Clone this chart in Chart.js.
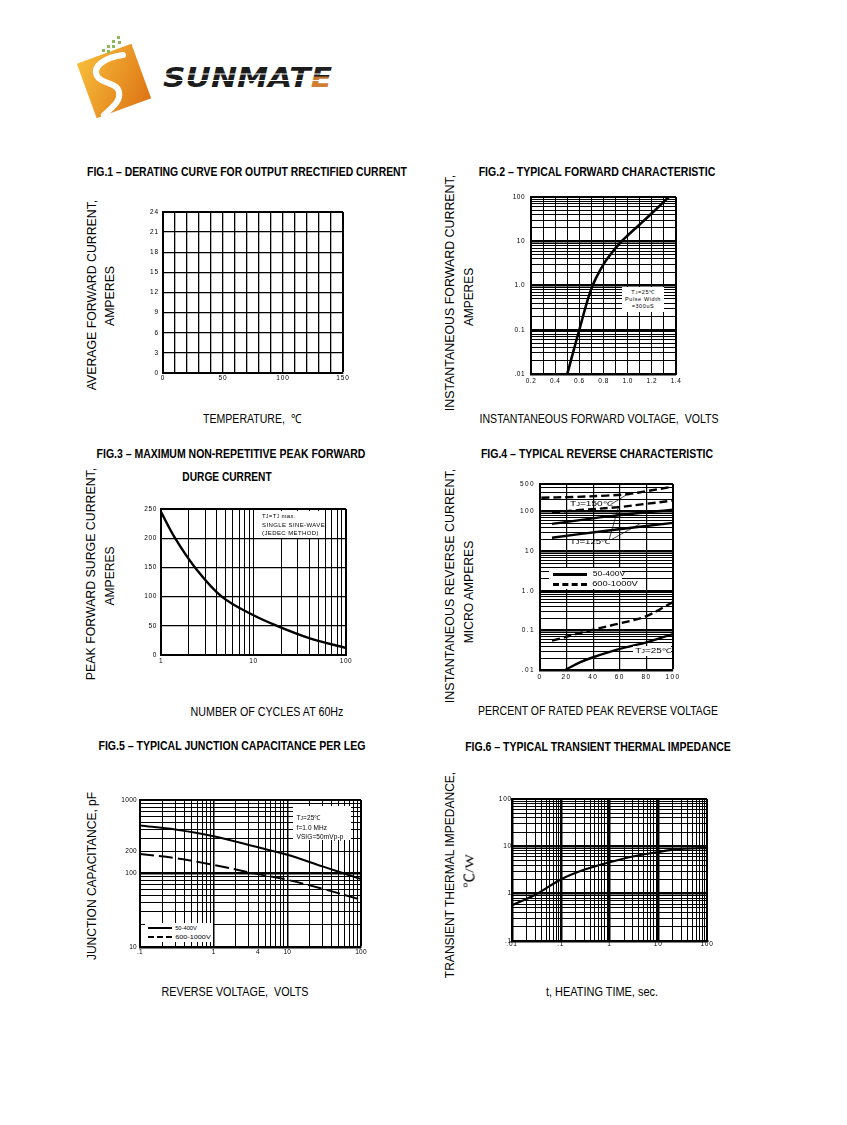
<!DOCTYPE html>
<html><head><meta charset="utf-8">
<script src="https://cdn.jsdelivr.net/npm/chart.js@4.4.1/dist/chart.umd.min.js"></script>
<style>
html,body{margin:0;padding:0;background:#fff;}
body{width:847px;height:1125px;position:relative;overflow:hidden;font-family:'Liberation Sans',Arial,sans-serif;color:#000;}
canvas{position:absolute;}
.t{position:absolute;white-space:nowrap;line-height:1;}
.box{position:absolute;background:#fff;white-space:nowrap;}
.sm{font-size:0.75em;}
</style></head>
<body>
<svg style="position:absolute;left:60px;top:30px" width="290" height="100" viewBox="60 30 290 100">
 <defs>
  <linearGradient id="og" x1="0" y1="0" x2="1" y2="1"><stop offset="0" stop-color="#f7bd3a"/><stop offset="1" stop-color="#de7415"/></linearGradient>
  <linearGradient id="eg" x1="0" y1="0" x2="0" y2="1"><stop offset="0.45" stop-color="#222"/><stop offset="0.5" stop-color="#c9772c"/><stop offset="1" stop-color="#d9863a"/></linearGradient>
 </defs>
 <g transform="rotate(-20 114 81)"><rect x="85" y="52" width="58" height="58" fill="url(#og)"/></g>
 <path d="M123 55 C106 57 92 66 97 76 C101 84 117 82 119 92 C121 102 111 108 104 115" stroke="#fff" stroke-width="6" fill="none" stroke-linecap="round"/>
 <g fill="#8cb85a">
  <rect x="117" y="36" width="3" height="3"/><rect x="112" y="40" width="3" height="3"/><rect x="118" y="41" width="3" height="3"/>
  <rect x="107" y="45" width="3" height="3"/><rect x="112" y="45" width="3" height="3"/><rect x="102" y="49" width="3" height="3"/>
  <rect x="107" y="50" width="3" height="3"/>
 </g>
 <text x="163" y="87" font-family="DejaVu Sans" font-weight="bold" font-style="italic" font-size="27" textLength="169" lengthAdjust="spacingAndGlyphs" fill="#1c1c1c">SUNMAT<tspan fill="url(#eg)">E</tspan></text>
 <line x1="160" y1="74" x2="336" y2="74" stroke="#fff" stroke-width="1.2"/>
 <line x1="160" y1="80.5" x2="336" y2="80.5" stroke="#fff" stroke-width="1.2"/>
</svg>

<script>
// ---------------- DATA ----------------
// Fig.1 (empty derating grid)
const fig1Temp = [];
const fig1Current = [];
const fig1XLabels = [0, 50, 100, 150];
const fig1YLabels = [0, 3, 6, 9, 12, 15, 18, 21, 24];

// Fig.2 forward characteristic
const fig2Voltage = [0.50, 0.60, 0.70, 0.80, 0.90, 0.95, 1.00, 1.10, 1.20, 1.34];
const fig2Current = [0.01, 0.1, 0.85, 3.0, 7.0, 10, 13.5, 24, 43, 100];
const fig2XLabelVals = [0.2, 0.4, 0.6, 0.8, 1.0, 1.2, 1.4];
const fig2XLabelText = ['0.2', '0.4', '0.6', '0.8', '1.0', '1.2', '1.4'];
const fig2YLabelVals = [0.01, 0.1, 1, 10, 100];
const fig2YLabelText = ['.01', '0.1', '1.0', '10', '100'];

// Fig.3 surge current
const fig3Cycles = [1, 1.42, 2.33, 4.54, 10, 17.9, 40, 100];
const fig3Amps = [245, 200, 150, 100, 68, 50, 29, 12];
const fig3XLabelVals = [1, 10, 100];
const fig3XLabelText = ['1', '10', '100'];
const fig3YLabels = [0, 50, 100, 150, 200, 250];

// Fig.4 reverse characteristic
const fig4Hi150Pct = [1, 25, 50, 67, 80, 100];
const fig4Hi150uA = [225, 235, 255, 280, 330, 430];
const fig4Hi125Pct = [9, 30, 59, 80, 100];
const fig4Hi125uA = [96, 110, 130, 158, 190];
const fig4Lo150Pct = [9, 50, 100];
const fig4Lo150uA = [49, 75, 112];
const fig4Lo125Pct = [9, 50, 100];
const fig4Lo125uA = [22, 33, 52];
const fig4Hi25Pct = [9, 40, 60, 80, 100];
const fig4Hi25uA = [0.055, 0.105, 0.15, 0.23, 0.52];
const fig4Lo25Pct = [19, 30, 40, 60, 80, 100];
const fig4Lo25uA = [0.01, 0.0156, 0.021, 0.034, 0.05, 0.081];
const fig4LeaderPct = [[53, 66], [52, 59], [54, 75]];
const fig4LeaderuA = [[150, 280], [20, 130], [20, 49]];
const fig4XLabels = [0, 20, 40, 60, 80, 100];
const fig4YLabelVals = [0.01, 0.1, 1, 10, 100, 500];
const fig4YLabelText = ['.01', '0.1', '1.0', '10', '100', '500'];

// Fig.5 junction capacitance
const fig5Volts = [0.1, 0.3, 1, 4, 10, 30, 100];
const fig5Cap50to400 = [450, 397, 321, 227, 180, 125, 84];
const fig5Cap600to1000 = [184, 162, 131, 98, 82, 62, 44];
const fig5XLabelVals = [0.1, 1, 4, 10, 100];
const fig5XLabelText = ['.1', '1', '4', '10', '100'];
const fig5YLabelVals = [10, 100, 200, 1000];
const fig5YLabelText = ['10', '100', '200', '1000'];

// Fig.6 transient thermal impedance
const fig6Time = [0.01, 0.03, 0.1, 0.3, 1, 3, 10, 30, 100];
const fig6Z = [0.57, 0.95, 2.0, 3.2, 4.6, 6.1, 7.6, 8.8, 9.2];
const fig6XLabelVals = [0.01, 0.1, 1, 10, 100];
const fig6XLabelText = ['.01', '.1', '1', '10', '100'];
const fig6YLabelVals = [0.1, 1, 10, 100];
const fig6YLabelText = ['.1', '1', '10', '100'];

// ---------------- HELPERS ----------------
Chart.defaults.font.family = "'Liberation Sans', Arial, sans-serif";
Chart.defaults.color = '#000';

function logGrid(min, max) {
  const out = [];
  for (let e = Math.floor(Math.log10(min)); e <= Math.ceil(Math.log10(max)); e++) {
    for (let m = 1; m <= 9; m++) {
      const v = +(m * Math.pow(10, e)).toPrecision(6);
      if (v >= min * 0.9999 && v <= max * 1.0001) out.push(v);
    }
  }
  return out;
}
function linGrid(min, max, step) {
  const out = [];
  const n = Math.round((max - min) / step);
  for (let i = 0; i <= n; i++) out.push(+(min + i * step).toFixed(6));
  return out;
}
const isDecade = v => v > 0 && Math.abs(Math.log10(v) - Math.round(Math.log10(v))) < 1e-6;

function axis(o) {
  const log = o.type === 'log';
  const grid = log ? logGrid(o.min, o.max) : linGrid(o.min, o.max, o.step);
  const texts = o.texts || o.vals.map(String);
  return {
    type: log ? 'logarithmic' : 'linear',
    position: o.pos,
    min: o.min, max: o.max,
    afterBuildTicks: s => { s.ticks = grid.map(v => ({ value: v })); },
    afterFit: s => { if (o.pos === 'bottom') s.height = o.size; else s.width = o.size; },
    ticks: {
      autoSkip: false, maxRotation: 0, minRotation: 0, padding: o.pad,
      font: { size: o.fs || 6.5 }, color: '#000',
      callback: v => {
        const i = o.vals.findIndex(x => Math.abs(x - v) <= Math.abs(v) * 1e-6 + 1e-12);
        return i >= 0 ? texts[i] : '';
      }
    },
    grid: {
      color: '#000', drawTicks: false,
      lineWidth: ctx => {
        const v = ctx.tick ? ctx.tick.value : null;
        if (v === null) return 1;
        if (Math.abs(v - o.max) < 1e-9 * Math.abs(o.max) + 1e-12) return 2;
        if (log && o.bold && isDecade(v)) return o.bold;
        return o.lw || 1;
      }
    },
    border: { display: true, color: '#000', width: 2 }
  };
}

function curve(xs, ys, opt) {
  opt = opt || {};
  return {
    data: xs.map((x, i) => ({ x: x, y: ys[i] })),
    borderColor: '#000', borderWidth: opt.w || 2.3, borderDash: opt.dash || [],
    pointRadius: 0, fill: false, tension: opt.straight ? 0 : 0.35,
    cubicInterpolationMode: 'default'
  };
}

const PT = 12, PR = 14;
function makeChart(box, xAx, yAx, datasets, spacing) {
  const c = document.createElement('canvas');
  const W = box.w + yAx.size + PR, H = box.h + PT + xAx.size;
  c.width = W; c.height = H;
  c.style.left = (box.l - yAx.size) + 'px';
  c.style.top = (box.t - PT) + 'px';
  c.style.width = W + 'px'; c.style.height = H + 'px';
  document.body.appendChild(c);
  xAx.pos = 'bottom'; yAx.pos = 'left';
  return new Chart(c, {
    type: 'line',
    data: { datasets: datasets },
    options: {
      responsive: false, animation: false, events: [],
      layout: { padding: { top: PT, right: PR, left: 0, bottom: 0 } },
      plugins: { legend: { display: false }, tooltip: { enabled: false } },
      scales: { x: axis(xAx), y: axis(yAx) }
    },
    plugins: [{ id: 'ls', beforeDraw(ch) { ch.ctx.letterSpacing = (spacing || 0.8) + 'px'; } }]
  });
}

function T(html, cx, cy, size, targetW, o) {
  o = o || {};
  const el = document.createElement('div');
  el.className = 't';
  el.innerHTML = html;
  el.style.fontSize = size + 'px';
  if (o.bold) el.style.fontWeight = 'bold';
  if (o.family) el.style.fontFamily = o.family;
  document.body.appendChild(el);
  const w = el.offsetWidth;
  const k = targetW ? targetW / w : 1;
  el.style.left = cx + 'px'; el.style.top = cy + 'px';
  el.style.transform = 'translate(-50%,-50%)' + (o.rot ? ' rotate(-90deg)' : '') + ' scaleX(' + k + ')';
  return el;
}
function B(html, l, t, w, h, o) {
  o = o || {};
  const el = document.createElement('div');
  el.className = 'box';
  el.style.left = l + 'px'; el.style.top = t + 'px';
  el.style.width = w + 'px'; el.style.height = h + 'px';
  el.style.fontSize = (o.fs || 6) + 'px';
  el.style.lineHeight = (o.lh || 8) + 'px';
  el.style.letterSpacing = (o.ls || 0.5) + 'px';
  el.style.textAlign = o.align || 'left';
  el.style.paddingLeft = (o.pl || 0) + 'px';
  el.style.paddingTop = (o.ptop || 0) + 'px';
  el.style.boxSizing = 'border-box';
  if (o.transparent) el.style.background = 'transparent';
  el.innerHTML = html;
  document.body.appendChild(el);
  return el;
}
function L(l, t, w, thick, dashed) {
  const el = document.createElement('div');
  el.style.position = 'absolute';
  el.style.left = l + 'px'; el.style.top = (t - thick / 2) + 'px';
  el.style.width = w + 'px'; el.style.height = '0px';
  el.style.borderTop = thick + 'px ' + (dashed ? 'dashed' : 'solid') + ' #000';
  document.body.appendChild(el);
}

// ---------------- CHARTS ----------------
// Fig 1
makeChart({ l: 163, t: 212, w: 180, h: 161 },
  { type: 'lin', min: 0, max: 150, step: 10, vals: fig1XLabels, size: 16, pad: 1.5, lw: 1.3 },
  { type: 'lin', min: 0, max: 24, step: 3, vals: fig1YLabels, size: 40, pad: 4, lw: 1.3 },
  [curve(fig1Temp, fig1Current)], 0.9);

// Fig 2
makeChart({ l: 531, t: 197, w: 145, h: 177 },
  { type: 'lin', min: 0.2, max: 1.4, step: 0.1, vals: fig2XLabelVals, texts: fig2XLabelText, size: 16, pad: 3, lw: 1 },
  { type: 'log', min: 0.01, max: 100, vals: fig2YLabelVals, texts: fig2YLabelText, size: 40, pad: 6, lw: 1, bold: 2.5 },
  [curve(fig2Voltage, fig2Current, { w: 2.6 })], 0.5);

// Fig 3
makeChart({ l: 161, t: 509, w: 185, h: 146 },
  { type: 'log', min: 1, max: 100, vals: fig3XLabelVals, texts: fig3XLabelText, size: 16, pad: 2, lw: 1, bold: 1 },
  { type: 'lin', min: 0, max: 250, step: 50, vals: fig3YLabels, size: 40, pad: 4, lw: 1.2 },
  [curve(fig3Cycles, fig3Amps, { w: 2.4 })], 0.6);

// Fig 4
const fig4Sets = [
  curve(fig4Hi150Pct, fig4Hi150uA, { dash: [8, 4], w: 2.4 }),
  curve(fig4Hi125Pct, fig4Hi125uA, { dash: [8, 4], w: 2.4 }),
  curve(fig4Lo150Pct, fig4Lo150uA, { w: 2.4 }),
  curve(fig4Lo125Pct, fig4Lo125uA, { w: 2.4 }),
  curve(fig4Hi25Pct, fig4Hi25uA, { dash: [8, 4], w: 2.4 }),
  curve(fig4Lo25Pct, fig4Lo25uA, { w: 2.4 })
];
fig4LeaderPct.forEach((xs, i) => fig4Sets.push(curve(xs, fig4LeaderuA[i], { w: 0.7, straight: true })));
makeChart({ l: 540, t: 484, w: 133, h: 186 },
  { type: 'lin', min: 0, max: 100, step: 20, vals: fig4XLabels, size: 16, pad: 3, lw: 1.2 },
  { type: 'log', min: 0.01, max: 500, vals: fig4YLabelVals, texts: fig4YLabelText, size: 40, pad: 5, lw: 1, bold: 2.5 },
  fig4Sets, 1.4);

// Fig 5
makeChart({ l: 140, t: 800, w: 221, h: 147 },
  { type: 'log', min: 0.1, max: 100, vals: fig5XLabelVals, texts: fig5XLabelText, size: 16, pad: 1, lw: 1, bold: 1.5 },
  { type: 'log', min: 10, max: 1000, vals: fig5YLabelVals, texts: fig5YLabelText, size: 40, pad: 3, lw: 1, bold: 2.5 },
  [curve(fig5Volts, fig5Cap50to400, { w: 2 }), curve(fig5Volts, fig5Cap600to1000, { w: 2, dash: [14, 5] })], 0.3);

// Fig 6
makeChart({ l: 512, t: 799, w: 195, h: 142 },
  { type: 'log', min: 0.01, max: 100, vals: fig6XLabelVals, texts: fig6XLabelText, size: 16, pad: -1, lw: 1, bold: 2.5 },
  { type: 'log', min: 0.1, max: 100, vals: fig6YLabelVals, texts: fig6YLabelText, size: 40, pad: 0, lw: 1, bold: 2.5 },
  [curve(fig6Time, fig6Z, { w: 2.2 })], 0);

// ---------------- TEXT ----------------
const TF = 12, AF = 12.5;
// titles
T('FIG.1 – DERATING CURVE FOR OUTPUT RRECTIFIED CURRENT', 246.5, 172, TF, 320, { bold: true });
T('FIG.2 – TYPICAL FORWARD CHARACTERISTIC', 596.5, 172, TF, 237, { bold: true });
T('FIG.3 – MAXIMUM NON-REPETITIVE PEAK FORWARD', 230.5, 454, TF, 269, { bold: true });
T('DURGE CURRENT', 227, 477, TF, 89, { bold: true });
T('FIG.4 – TYPICAL REVERSE CHARACTERISTIC', 596.5, 454, TF, 232, { bold: true });
T('FIG.5 – TYPICAL JUNCTION CAPACITANCE PER LEG', 232, 746, TF, 267, { bold: true });
T('FIG.6 – TYPICAL TRANSIENT THERMAL IMPEDANCE', 598, 746.5, TF, 266, { bold: true });

// y axis titles
T('AVERAGE FORWARD CURRENT,', 91.7, 294.5, AF, 191, { rot: true });
T('AMPERES', 110, 296, AF, 60, { rot: true });
T('INSTANTANEOUS FORWARD CURRENT,', 450, 293, AF, 236, { rot: true });
T('AMPERES', 469, 296.5, AF, 58, { rot: true });
T('PEAK FORWARD SURGE CURRENT,', 90.5, 574, AF, 212, { rot: true });
T('AMPERES', 110, 576, AF, 59, { rot: true });
T('INSTANTANEOUS REVERSE CURRENT,', 449.5, 586, AF, 234, { rot: true });
T('MICRO AMPERES', 469, 591.5, AF, 103, { rot: true });
T('JUNCTION CAPACITANCE, pF', 92, 876, AF, 168, { rot: true });
T('TRANSIENT THERMAL IMPEDANCE,', 450, 874.7, AF, 206, { rot: true });
T('℃/W', 469, 871, 13, 34, { rot: true, family: "'Liberation Serif','Noto Sans CJK SC',serif" });

// x axis titles
T('TEMPERATURE,&nbsp; ℃', 252, 419, AF, 98);
T('INSTANTANEOUS FORWARD VOLTAGE,&nbsp; VOLTS', 598.8, 419.3, AF, 239);
T('NUMBER OF CYCLES AT 60Hz', 267, 711.7, AF, 153);
T('PERCENT OF RATED PEAK REVERSE VOLTAGE', 598.3, 710.5, AF, 240);
T('REVERSE VOLTAGE,&nbsp; VOLTS', 235, 991.7, AF, 147);
T('t, HEATING TIME, sec.', 602, 991.7, AF, 112);

// annotation boxes
B('T<span class="sm">J</span>=25℃<br>Pulse Width<br>=300uS', 622, 287, 42, 25, { fs: 5.5, lh: 7.4, ls: 0.6, align: 'center', ptop: 1.5 });
B('T<span class="sm">J</span>=T<span class="sm">J</span> max.<br>SINGLE SINE-WAVE<br>(JEDEC METHOD)', 259, 511, 63, 27, { fs: 6, lh: 8, ls: 0.4, pl: 3, ptop: 1 });
B('T<span class="sm">J</span>=25℃<br>f=1.0 MHz<br>VSIG=50mVp-p', 293, 806, 58, 34, { fs: 6.5, lh: 9, ls: 0.1, pl: 3.5, ptop: 7 });

// fig5 legend
B('', 145, 923, 68, 19);
L(148, 928.3, 24, 2.5, false);
L(148, 937, 24, 2.5, true);
T('50-400V', 186, 928.3, 6, 22);
T('600-1000V', 192.5, 937, 6, 35);

// fig4 legend
B('', 549, 568, 73, 21);
L(553, 574, 34, 3, false);
L(553, 584, 34, 3, true);
T('50-400V', 608.5, 574, 6.5, 33, {});
T('600-1000V', 615, 584, 6.5, 46, {});

// fig4 labels
T('T<span class="sm">J</span>=150℃', 591, 504, 6.5, 42);
T('T<span class="sm">J</span>=125℃', 590, 541.7, 6.5, 40);
B('', 633, 646, 38, 10);
T('T<span class="sm">J</span>=25℃', 652.5, 650.7, 6.5, 35);
</script>
</body></html>
